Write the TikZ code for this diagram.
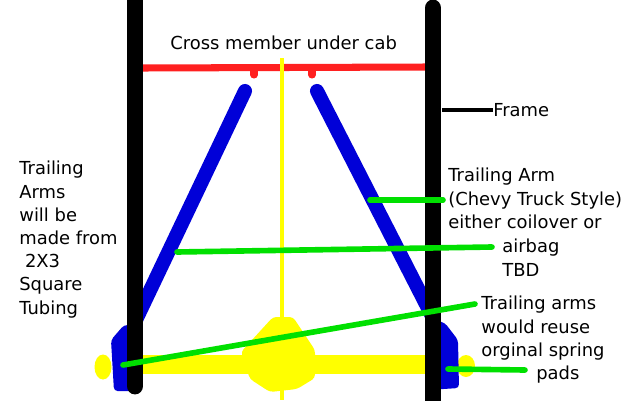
\documentclass[tikz,border=0pt]{standalone}
\usepackage{fontspec}
\setmainfont{DejaVu Sans}
\definecolor{armblue}{RGB}{0,0,216}
\definecolor{memberred}{RGB}{255,32,32}
\definecolor{axleyellow}{RGB}{255,255,0}
\definecolor{leadgreen}{RGB}{0,224,0}
\tikzset{
  label/.style={inner sep=0pt, align=left, anchor=north west, font=\fontsize{10.2}{13.2}\selectfont},
  rail/.style={line width=9.6pt, black, line cap=round},
  arm/.style={line width=8pt, armblue, line cap=round},
  lead/.style={line width=3.2pt, leadgreen, line cap=round},
}
\begin{document}
\begin{tikzpicture}[x=0.02cm,y=-0.02cm]
\useasboundingbox (0,0) rectangle (630,400);
%axle
\fill[axleyellow] (130,355) rectangle (430,374);
\fill[axleyellow] (103,367) ellipse (8.5 and 12.5);
\fill[axleyellow] (466,366) ellipse (9 and 11);
\fill[axleyellow, rounded corners=2pt] (273,317)--(293,317)--(315,350)--(315,378)--(297,389)--(270,392)--(250,379)--(241,352)--cycle;
%arms and pads
\draw[arm] (245,91)--(135,322);
\draw[arm] (317,91)--(432,316);
\fill[armblue, rounded corners=2pt] (111,340)--(124,325)--(140,325)--(140,391)--(114,391)--cycle;
\fill[armblue, rounded corners=2pt] (428,318)--(445,323)--(458,340)--(459,388)--(428,390)--cycle;
%cross member
\draw[line width=4pt, memberred] (143,68)--(425,67);
\draw[line width=4pt, memberred, line cap=round] (254,70)--(254,75);
\draw[line width=4pt, memberred, line cap=round] (312,70)--(312,75);
\draw[line width=2.2pt, axleyellow] (282,58)--(282,400);
%frame
\draw[rail] (135,-10)--(135,386);
\draw[rail] (433,8)--(433,410);
\coordinate (framestub) at (442,110);
\coordinate (armstub) at (370,200);
\coordinate (armrail) at (443,200);
\coordinate (bagstart) at (177,252);
\coordinate (bagend) at (492,247);
\coordinate (padleft) at (123,365);
\coordinate (padtop) at (475,304);
\coordinate (padright) at (448,369);
\coordinate (padend) at (525,370);
\node[label, anchor=west] (framelabel) at (493,110) {Frame};
\draw[line width=2.4pt, black] (framestub)--(framelabel.west);
%leaders
\draw[lead] (armstub)--(armrail);
\draw[lead] (bagstart)--(bagend);
\draw[lead] (padleft)--(padtop);
\draw[lead] (padright)--(padend);
%labels
\node[label] (crosslabel) at (170,36) {Cross member under cab};
\node[label] (tubelabel) at (19,161) {Trailing\\Arms\\will be\\made from\\\ 2X3\\Square\\Tubing};
\node[label] (armlabel) at (448,168) {Trailing Arm\\(Chevy Truck Style)\\either coilover or};
\node[label] (baglabel) at (502,239) {airbag\\TBD};
\node[label] (reuselabel) at (481,296) {Trailing arms\\would reuse\\orginal spring};
\node[label] (padlabel) at (536,366) {pads};
\end{tikzpicture}
\end{document}
